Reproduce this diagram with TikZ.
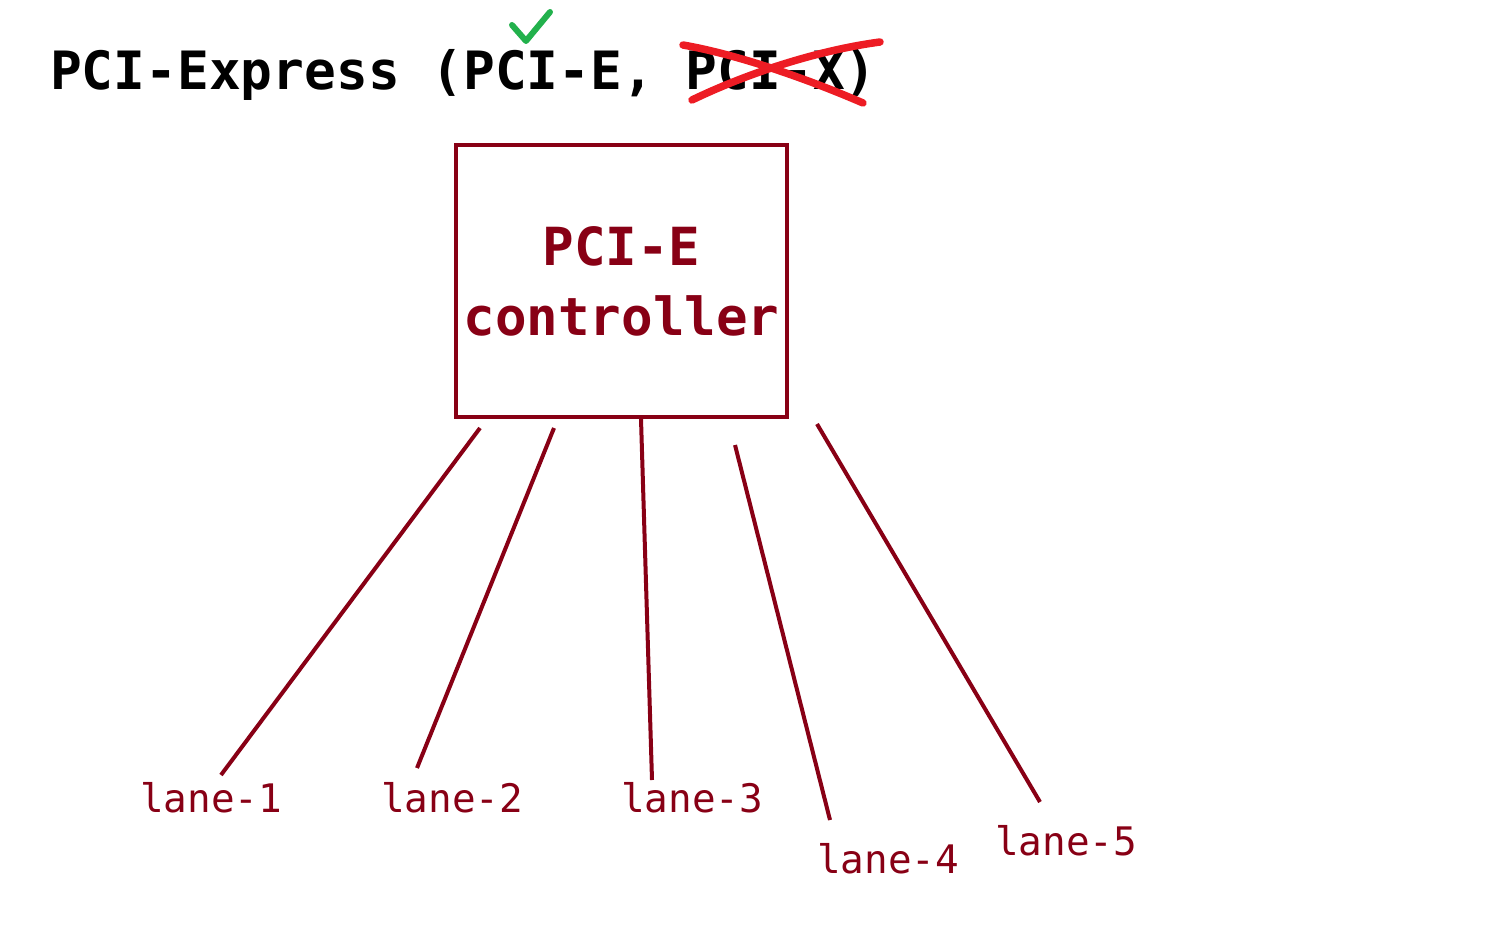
\documentclass[tikz,border=0pt]{standalone}
\usepackage{fontspec}
\setmonofont{DejaVu Sans Mono}
\usetikzlibrary{positioning}
\definecolor{darkred}{RGB}{136,0,21}
\definecolor{paintgreen}{RGB}{34,177,76}
\definecolor{paintred}{RGB}{237,28,36}
\begin{document}
\begin{tikzpicture}[x=1pt,y=-1pt,
  title/.style={anchor=base west,inner sep=0pt,font=\ttfamily\bfseries\fontsize{52.8}{60}\selectfont},
  ctrl/.style={draw=darkred,line width=4pt,minimum width=331pt,minimum height=272pt,inner sep=0pt,
    text=darkred,align=center,font=\ttfamily\bfseries\fontsize{52.5}{70}\selectfont},
  lanelbl/.style={anchor=base west,inner sep=0pt,text=darkred,font=\ttfamily\fontsize{39.3}{44}\selectfont},
  wire/.style={darkred,line width=4pt}]
 \useasboundingbox (0,0) rectangle (1496,936);
 \node[title] (head) at (50,90) {PCI-Express (PCI-E, PCI-X)};
 \draw[paintgreen,line width=6pt,line cap=round,line join=round](512,25)--(526,41)--(550,12);
 \draw[paintred,line width=7.5pt,line cap=round](683,45) .. controls (740,55) and (810,80) .. (863,103);
 \draw[paintred,line width=7.5pt,line cap=round](692,100) .. controls (750,72) and (820,50) .. (880,42);
 \node[ctrl] (pcie) at (621.5,281) {PCI-E\\controller};
 \node[lanelbl] (l1) at (140,812) {lane-1};
 \node[lanelbl] (l2) at (381,812) {lane-2};
 \node[lanelbl] (l3) at (621,812) {lane-3};
 \node[lanelbl] (l4) at (817,873) {lane-4};
 \node[lanelbl] (l5) at (995,855) {lane-5};
 \coordinate (t1) at (480,428); \coordinate (b1) at (221,775);
 \coordinate (t2) at (554,428); \coordinate (b2) at (417,768);
 \coordinate (t3) at (641,419); \coordinate (b3) at (652,780);
 \coordinate (t4) at (735,445); \coordinate (b4) at (830,820);
 \coordinate (t5) at (817,424); \coordinate (b5) at (1040,802);
 \draw[wire](t1)--(b1);
 \draw[wire](t2)--(b2);
 \draw[wire](t3)--(b3);
 \draw[wire](t4)--(b4);
 \draw[wire](t5)--(b5);
\end{tikzpicture}
\end{document}
